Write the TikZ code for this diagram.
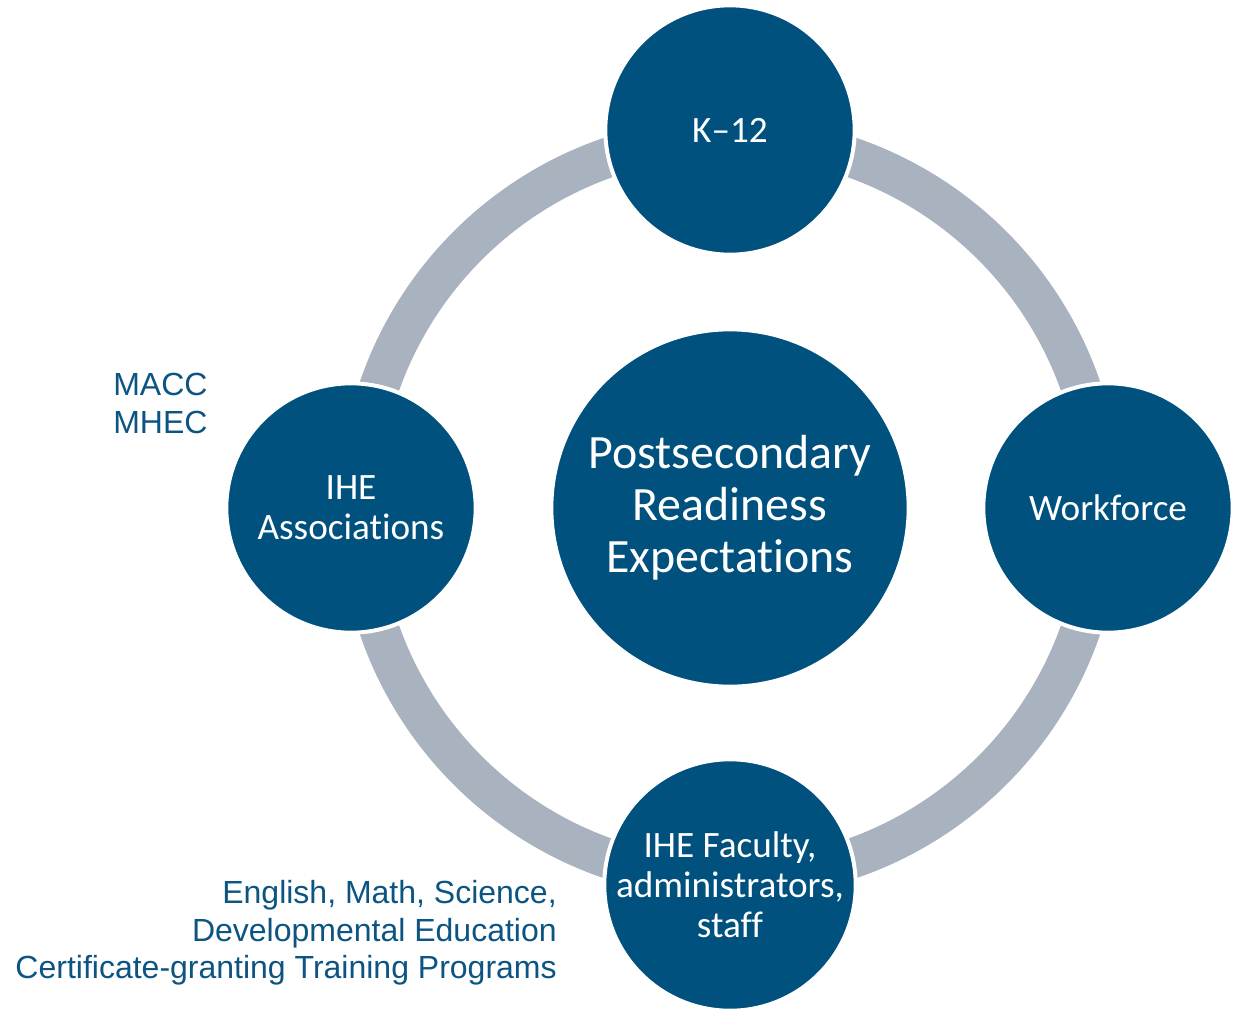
\documentclass[tikz,border=0pt]{standalone}
\usepackage{fontspec}
\setmainfont{Carlito}[Ligatures=NoCommon]
\newfontfamily\arialfont{Liberation Sans}
\definecolor{nodeblue}{RGB}{1,81,127}
\definecolor{ringgray}{RGB}{169,178,191}
\definecolor{labelblue}{RGB}{12,84,130}
\begin{document}
\begin{tikzpicture}[x=0.75pt,y=-0.75pt,
  satellite/.style={circle,fill=nodeblue,draw=white,line width=3pt,
    minimum size=187pt,inner sep=0pt,text=white,align=center,
    font=\fontsize{27.9}{30}\selectfont},
  hub/.style={circle,fill=nodeblue,draw=white,line width=3pt,
    minimum size=268pt,inner sep=0pt,text=white,align=center,
    font=\fontsize{35.9}{39}\selectfont},
  sidelabel/.style={inner sep=0pt,text=labelblue,
    font=\arialfont\fontsize{24}{28.2}\selectfont},
  ring/.style={draw=ringgray,line width=30pt}]
\useasboundingbox (0,0) rectangle (1240,1008);
\coordinate (c) at (730,508);
\draw[ring] (c) circle[radius=371];
\node[hub] (hub) at (c) {Postsecondary\\Readiness\\Expectations};
\node[satellite] (k12) at (730,130) {K--12};
\node[satellite] (work) at (1108,508) {Workforce};
\node[satellite] (assoc) at (351,508) {IHE\\Associations};
\node[satellite] (fac) at (730,885) {IHE Faculty,\\administrators,\\staff};
\node[sidelabel,anchor=north west,align=left] (assoclbl) at (113,373) {MACC\\MHEC};
\node[sidelabel,anchor=north east,align=right] (faclbl) at (557,880)
  {English, Math, Science,\\Developmental Education\\Certificate-granting Training Programs};
\end{tikzpicture}
\end{document}
